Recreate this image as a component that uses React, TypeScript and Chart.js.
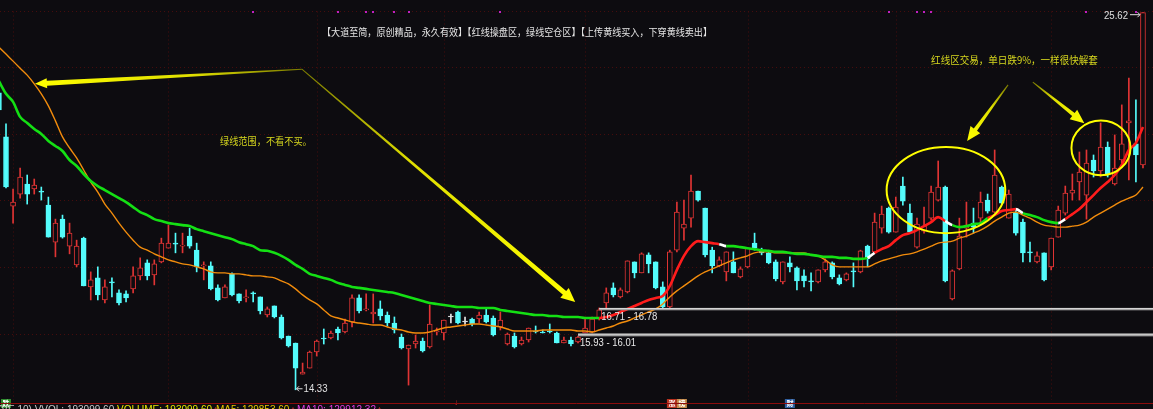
import React, { useEffect, useRef } from "react";
import { Chart, registerables } from "chart.js";

Chart.register(...registerables);

// ---------------- data ----------------
const opens = [23.22,21.90,19.83,20.19,20.49,20.34,20.28,19.86,18.75,19.44,
18.63,18.07,18.87,17.41,17.68,17.02,17.56,17.23,17.20,17.35,
17.74,18.13,17.77,18.16,18.57,18.72,18.63,18.93,18.51,18.04,
18.04,17.38,17.08,17.80,17.20,17.08,17.23,17.11,16.57,16.84,
16.51,15.94,15.73,14.80,14.98,15.46,15.88,15.88,16.15,16.06,
16.36,17.08,16.72,16.60,16.75,16.57,16.33,15.91,15.55,15.70,
15.79,15.61,16.06,16.03,16.51,16.66,16.36,16.45,16.45,16.57,
16.48,16.21,15.70,15.94,15.70,15.82,16.09,16.06,16.09,16.03,
15.73,15.82,15.76,16.03,16.06,16.45,16.93,17.38,17.11,17.26,
18.16,17.83,18.37,18.16,17.41,16.81,18.51,19.17,19.47,20.28,
19.77,18.51,18.04,17.86,18.16,17.71,18.01,18.72,18.51,18.43,
18.16,17.56,18.13,17.98,17.74,17.59,17.56,17.92,18.13,17.68,
17.62,17.89,17.86,18.63,18.46,19.17,19.77,19.05,20.43,19.62,
18.60,19.08,19.47,20.01,20.40,17.05,17.95,19.17,19.32,19.47,
20.01,19.65,20.40,19.47,19.65,19.35,18.46,18.16,18.43,18.01,
18.90,19.62,20.22,20.55,20.16,21.21,20.88,21.60,20.49,21.21,
22.32,21.69,21.06];

const closes = [22.71,20.40,19.95,20.70,20.19,20.46,20.25,18.90,19.32,18.90,
19.02,18.63,17.44,17.62,17.17,17.41,17.53,16.93,17.08,17.74,
17.98,17.74,18.10,18.72,18.72,18.69,18.66,18.63,18.01,18.07,
17.35,17.02,17.41,17.17,16.99,17.11,17.20,16.69,16.75,16.51,
15.88,15.64,14.98,14.86,15.46,15.79,15.85,16.03,16.03,16.33,
17.08,16.69,16.75,16.66,16.54,16.33,16.12,15.58,15.67,15.79,
15.49,16.30,16.09,16.42,16.51,16.33,16.36,16.30,16.57,16.36,
15.97,16.42,16.00,15.61,15.82,16.18,16.06,16.03,16.06,15.73,
15.82,15.70,15.91,16.18,16.45,16.72,17.23,17.17,17.32,18.19,
17.83,18.40,18.10,17.38,16.81,18.46,19.65,19.29,20.28,20.01,
18.37,18.04,18.22,18.46,17.83,17.95,18.57,18.57,18.43,18.13,
17.65,18.16,18.01,17.59,17.59,17.56,17.92,18.16,17.71,17.50,
17.80,17.86,18.49,18.25,19.35,19.59,19.05,19.80,19.98,19.05,
19.29,19.23,20.25,20.40,17.59,17.89,18.93,19.26,19.20,19.95,
19.68,20.76,19.92,20.19,19.02,18.43,18.43,18.34,17.62,18.87,
19.71,20.22,20.31,20.85,21.12,20.88,21.60,20.76,20.97,21.69,
22.38,21.36,25.62];

const highs = [23.31,22.29,20.34,20.97,20.76,20.64,20.40,20.10,19.44,19.56,
19.32,18.81,18.90,17.86,18.01,17.62,17.68,17.32,17.29,18.01,
18.28,18.22,18.22,18.87,19.26,19.02,19.02,19.17,18.72,18.16,
18.16,17.47,17.47,17.83,17.20,17.32,17.26,17.11,16.81,16.84,
16.57,15.94,15.73,15.13,15.49,15.82,16.15,16.09,16.21,16.45,
17.17,17.17,17.20,17.20,16.99,16.66,16.51,16.00,15.67,15.97,
15.88,16.87,16.18,16.42,16.60,16.69,16.51,16.48,16.66,16.78,
16.54,16.66,16.03,16.03,15.91,16.18,16.24,16.12,16.30,16.06,
15.91,15.91,15.94,16.48,16.51,16.78,17.38,17.53,17.38,18.19,
18.16,18.43,18.43,18.16,17.56,18.51,19.95,20.01,20.76,20.28,
19.77,18.60,18.31,18.46,18.46,18.01,18.57,19.02,18.57,18.49,
18.22,18.16,18.31,18.01,17.92,17.83,17.92,18.25,18.16,17.77,
17.83,18.13,18.51,18.66,19.62,19.83,19.80,20.10,20.70,19.89,
19.47,19.80,20.43,21.18,20.43,17.92,19.47,19.95,19.77,20.25,
20.19,21.51,20.43,20.31,19.71,19.44,18.75,18.46,18.43,18.87,
19.83,20.43,20.79,21.45,21.51,21.36,22.32,21.75,21.96,22.86,
23.66,23.01,25.62];

const lows = [22.65,20.37,19.32,20.07,19.89,20.19,20.01,18.90,18.31,18.87,
18.40,18.01,17.44,17.02,17.02,16.93,17.11,16.87,16.96,17.23,
17.62,17.62,17.47,18.13,18.57,18.43,18.43,18.57,17.86,17.62,
17.32,16.99,17.08,17.14,16.93,16.96,16.96,16.60,16.51,16.48,
15.85,15.61,14.33,14.80,14.98,15.34,15.70,15.85,15.82,16.03,
16.21,16.63,16.69,16.33,16.42,16.24,16.03,15.55,14.47,15.58,
15.46,15.58,15.97,15.82,16.33,16.30,16.24,16.24,16.33,16.33,
15.94,16.12,15.67,15.58,15.67,15.76,16.03,16.03,16.03,15.73,
15.73,15.64,15.73,16.03,16.03,16.42,16.78,17.11,17.08,17.23,
17.68,17.83,17.83,17.35,16.78,16.78,18.46,18.81,19.20,19.98,
18.31,17.83,18.01,17.59,17.83,17.68,17.98,18.51,18.37,18.10,
17.59,17.50,17.86,17.32,17.41,17.29,17.53,17.86,17.65,17.47,
17.59,17.41,17.83,18.01,18.43,19.02,19.02,19.05,19.86,19.02,
18.57,19.02,19.41,19.98,17.56,17.02,17.92,18.90,19.02,19.26,
19.62,19.62,19.89,19.47,18.96,18.16,18.16,18.13,17.59,17.92,
18.90,19.56,20.01,20.01,19.44,20.70,20.70,20.70,20.46,21.12,
20.61,20.55,20.97];

// red / green "operating line"
const tradeLine = [23.57,23.19,22.95,22.50,22.32,22.14,21.99,21.78,21.63,21.48,
21.21,21.03,20.79,20.58,20.43,20.31,20.19,20.07,19.95,19.80,
19.65,19.56,19.44,19.38,19.32,19.29,19.26,19.23,19.14,19.08,
19.02,18.96,18.90,18.84,18.75,18.69,18.63,18.51,18.49,18.43,
18.34,18.22,18.07,17.95,17.80,17.74,17.68,17.62,17.53,17.47,
17.41,17.38,17.35,17.32,17.29,17.26,17.23,17.17,17.11,17.05,
16.99,16.93,16.90,16.87,16.84,16.81,16.81,16.81,16.78,16.78,
16.78,16.72,16.69,16.66,16.63,16.60,16.57,16.57,16.54,16.54,
16.51,16.51,16.51,16.48,16.48,16.48,16.51,16.57,16.66,16.75,
16.84,16.93,17.02,17.08,17.14,17.44,17.92,18.34,18.63,18.78,
18.75,18.72,18.69,18.63,18.63,18.60,18.57,18.54,18.51,18.49,
18.46,18.46,18.43,18.40,18.40,18.37,18.34,18.31,18.31,18.28,
18.28,18.25,18.25,18.28,18.43,18.54,18.63,18.81,18.96,19.02,
19.11,19.23,19.35,19.50,19.38,19.26,19.20,19.23,19.29,19.32,
19.47,19.56,19.68,19.71,19.74,19.62,19.56,19.50,19.41,19.35,
19.32,19.44,19.59,19.74,19.95,20.16,20.37,20.55,20.76,21.06,
21.51,21.72,22.20];

// state of the operating line from each index on: G = green, R = red, W = white turn
const tradeLineStates: [number, string][] = [[0,"G"],[85,"R"],[102,"W"],[103,"G"],[123,"W"],[124,"R"],[134,"W"],[135,"G"],[140,"R"],[144,"W"],[145,"G"],[150,"W"],[151,"R"]];

// yellow (orange) line
const yellowLine = [24.59,24.38,24.17,23.96,23.75,23.49,23.19,22.83,22.38,21.90,
21.57,21.27,20.91,20.55,20.25,19.89,19.62,19.32,19.05,18.81,
18.60,18.51,18.40,18.31,18.22,18.16,18.10,18.07,18.01,17.95,
17.86,17.83,17.83,17.80,17.80,17.77,17.74,17.74,17.71,17.68,
17.59,17.50,17.35,17.17,17.02,16.90,16.72,16.54,16.48,16.42,
16.36,16.33,16.30,16.27,16.27,16.21,16.15,16.12,16.06,16.03,
16.03,16.06,16.12,16.18,16.21,16.24,16.27,16.30,16.30,16.27,
16.24,16.21,16.15,16.09,16.09,16.09,16.09,16.12,16.12,16.12,
16.12,16.12,16.09,16.09,16.06,16.12,16.18,16.24,16.33,16.39,
16.48,16.57,16.66,16.75,16.90,17.11,17.29,17.44,17.59,17.74,
17.86,17.95,18.04,18.13,18.22,18.28,18.34,18.43,18.46,18.46,
18.43,18.43,18.43,18.43,18.43,18.37,18.34,18.22,18.07,18.01,
18.01,18.01,18.01,18.01,18.10,18.19,18.25,18.31,18.37,18.40,
18.46,18.54,18.63,18.72,18.75,18.78,18.87,18.93,19.02,19.11,
19.23,19.38,19.50,19.62,19.65,19.56,19.47,19.35,19.26,19.23,
19.20,19.20,19.23,19.26,19.35,19.50,19.62,19.74,19.86,19.98,
20.07,20.16,20.40];

const monthStarts = [2, 24, 45, 63, 83, 106, 127, 149];
const gridPrices = [16, 18, 20, 22, 24];
const gapZones = [
  { lo: 16.71, hi: 16.78, fromIdx: 85, label: "16.71 - 16.78" },
  { lo: 15.93, hi: 16.01, fromIdx: 82, label: "15.93 - 16.01" },
];
const eventMarks = [36, 48, 52, 53, 56, 58, 71, 126, 130, 131, 132, 154, 161];

const titleText = "【大道至简，原创精品，永久有效】【红线操盘区，绿线空仓区】【上传黄线买入，下穿黄线卖出】";
const greenNote = "绿线范围，不看不买。";
const redNote = "红线区交易，单日跌9%，一样很快解套";

const volumeParts = [
  { text: "(VE 10) VVOL: 193099.60", color: "#c8c8c8", x: -2 },
  { text: "VOLUME: 193099.60", color: "#e6e600", x: 117 },
  { text: "MA5: 129853.60", color: "#e6c800", x: 216 },
  { text: "MA10: 129912.32", color: "#e040e0", x: 297 },
];

const badges = [
  { idx: 1, parts: [{ t: "跌", bg: "#2e8b2e" }] },
  { idx: 96, parts: [{ t: "涨", bg: "#b8321f" }, { t: "榜", bg: "#c48a4a" }] },
  { idx: 112, parts: [{ t: "财", bg: "#2f5fa0" }] },
];

// ---------------- styles ----------------
const BG = "#0d0c10";
const UP = "#e03434";
const DOWN = "#54fcfc";
const FLAT = "#e8e8e8";
const CJK = "'Noto Sans CJK SC', sans-serif";
const NUMF = "'Liberation Sans', Arial, sans-serif";

function stateAt(i: number) {
  let s = "G";
  for (const [start, st] of tradeLineStates) if (i >= start) s = st;
  return s;
}
function stateColor(s: string) {
  return s === "R" ? "#ff1c1c" : s === "W" ? "#ffffff" : "#14e014";
}

function drawArrow(ctx: any, x0: number, y0: number, x1: number, y1: number, tailW: number, shaftW: number, headLen: number, headW: number) {
  const dx = x1 - x0, dy = y1 - y0;
  const L = Math.hypot(dx, dy);
  const ux = dx / L, uy = dy / L;
  const nx = -uy, ny = ux;
  const bx = x1 - ux * headLen, by = y1 - uy * headLen;
  const g = ctx.createLinearGradient(x0, y0, x1, y1);
  g.addColorStop(0, "#7a7a00");
  g.addColorStop(0.4, "#dede00");
  g.addColorStop(1, "#ffff00");
  ctx.fillStyle = g;
  ctx.beginPath();
  ctx.moveTo(x0 + nx * tailW / 2, y0 + ny * tailW / 2);
  ctx.lineTo(bx + nx * shaftW / 2, by + ny * shaftW / 2);
  ctx.lineTo(bx + nx * headW / 2, by + ny * headW / 2);
  ctx.lineTo(x1, y1);
  ctx.lineTo(bx - nx * headW / 2, by - ny * headW / 2);
  ctx.lineTo(bx - nx * shaftW / 2, by - ny * shaftW / 2);
  ctx.lineTo(x0 - nx * tailW / 2, y0 - ny * tailW / 2);
  ctx.closePath();
  ctx.fill();
}

export default function App() {
  const ref = useRef<HTMLCanvasElement>(null);

  useEffect(() => {
    document.body.style.margin = "0";
    document.body.style.background = BG;
    const canvas = ref.current!;
    const n = closes.length;
    const idx = Array.from({ length: n }, (_, i) => i);
    const col = idx.map((i) => (closes[i] > opens[i] ? UP : closes[i] < opens[i] ? DOWN : FLAT));
    const fill = idx.map((i) => (closes[i] > opens[i] ? BG : col[i]));
    const maxHigh = Math.max(...highs);
    const minLow = Math.min(...lows);
    const iHigh = highs.indexOf(maxHigh);
    const iLow = lows.indexOf(minLow);

    // annotation geometry in data coordinates (index, price)
    const arrows = [
      { from: [42.9, 23.93], to: [5.1, 23.49], tailW: 1, shaftW: 5, headLen: 12, headW: 10 },
      { from: [42.9, 23.93], to: [81.6, 16.96], tailW: 1, shaftW: 5, headLen: 14, headW: 13 },
      { from: [142.9, 23.46], to: [137.1, 21.78], tailW: 1, shaftW: 4, headLen: 14, headW: 12 },
      { from: [146.4, 23.54], to: [153.7, 22.31], tailW: 1, shaftW: 4, headLen: 14, headW: 12 },
    ];
    const ellipses = [
      { cIdx: 134.1, cPrice: 20.31, rIdx: 8.4, rPrice: 1.29 },
      { cIdx: 156.05, cPrice: 21.57, rIdx: 4.18, rPrice: 0.82 },
    ];
    const notes = [
      { text: titleText, from: 45.75, to: 100.97, price: 25.04, color: "#e6e6e6" },
      { text: greenNote, from: 31.3, to: 44.3, price: 21.78, color: "#d8d81e" },
      { text: redNote, from: 132.0, to: 155.6, price: 24.2, color: "#d8d81e" },
    ];

    const deco = {
      id: "deco",
      beforeDraw(chart: any) {
        const { ctx, width, height } = chart;
        ctx.save();
        ctx.fillStyle = BG;
        ctx.fillRect(0, 0, width, height);
        ctx.restore();
      },
      beforeDatasetsDraw(chart: any) {
        const { ctx, chartArea } = chart;
        const xs = chart.scales.x, ys = chart.scales.y;
        ctx.save();
        ctx.strokeStyle = "#460d0d";
        ctx.lineWidth = 1;
        ctx.setLineDash([1, 3]);
        const topY = Math.round(ys.getPixelForValue(maxHigh)) - 1.5;
        for (const p of gridPrices) {
          const py = Math.round(ys.getPixelForValue(p)) + 0.5;
          ctx.beginPath(); ctx.moveTo(0, py); ctx.lineTo(chartArea.right, py); ctx.stroke();
        }
        ctx.beginPath(); ctx.moveTo(0, topY); ctx.lineTo(chartArea.right, topY); ctx.stroke();
        for (const m of monthStarts) {
          const px = Math.round(xs.getPixelForValue(m)) + 0.5;
          ctx.beginPath(); ctx.moveTo(px, topY); ctx.lineTo(px, chartArea.bottom); ctx.stroke();
        }
        ctx.restore();
      },
      afterDatasetsDraw(chart: any) {
        const { ctx, chartArea } = chart;
        const xs = chart.scales.x, ys = chart.scales.y;
        const X = (v: number) => xs.getPixelForValue(v);
        const Y = (v: number) => ys.getPixelForValue(v);
        ctx.save();

        // gap zones
        for (const g of gapZones) {
          const x0 = X(g.fromIdx);
          const yh = Y(g.hi), yl = Y(g.lo);
          ctx.fillStyle = "#a4a4a4";
          ctx.fillRect(x0, yh, chartArea.right - x0, Math.max(2, yl - yh));
          ctx.fillStyle = "#d8d8d8";
          ctx.fillRect(x0, yh, chartArea.right - x0, 1);
          ctx.font = `11px ${NUMF}`;
          ctx.textBaseline = "top";
          ctx.textAlign = "left";
          ctx.fillStyle = "#e8e8e8";
          ctx.fillText(g.label, x0 + 2, yl + 1.5, 56);
        }

        // low / high labels
        ctx.font = `11px ${NUMF}`;
        ctx.fillStyle = "#e0e0e0";
        ctx.textBaseline = "middle";
        const lx = X(iLow), ly = Y(minLow) - 1;
        ctx.strokeStyle = "#e0e0e0"; ctx.lineWidth = 1;
        ctx.beginPath(); ctx.moveTo(lx + 1, ly); ctx.lineTo(lx + 7, ly); ctx.stroke();
        ctx.beginPath(); ctx.moveTo(lx + 1, ly); ctx.lineTo(lx + 3.5, ly - 2.5); ctx.moveTo(lx + 1, ly); ctx.lineTo(lx + 3.5, ly + 2.5); ctx.stroke();
        ctx.textAlign = "left";
        ctx.fillText(minLow.toFixed(2), lx + 8, ly, 24);
        const hx = X(iHigh), hy = Y(maxHigh) + 2;
        ctx.textAlign = "right";
        ctx.fillText(maxHigh.toFixed(2), hx - 15, hy + 1, 24);
        ctx.beginPath(); ctx.moveTo(hx - 13, hy); ctx.lineTo(hx - 3, hy); ctx.stroke();
        ctx.beginPath(); ctx.moveTo(hx - 3, hy); ctx.lineTo(hx - 5.5, hy - 2.5); ctx.moveTo(hx - 3, hy); ctx.lineTo(hx - 5.5, hy + 2.5); ctx.stroke();

        // event marks on top line
        ctx.fillStyle = "#c020c0";
        for (const e of eventMarks) {
          ctx.fillRect(Math.round(X(e)) - 1, Math.round(Y(maxHigh)) - 2, 2, 2);
        }

        // texts
        ctx.textAlign = "left";
        ctx.textBaseline = "middle";
        for (const t of notes) {
          ctx.font = `10px ${CJK}`;
          ctx.fillStyle = t.color;
          const x0 = X(t.from), x1 = X(t.to);
          ctx.fillText(t.text, x0, Y(t.price), x1 - x0);
        }

        // arrows
        for (const a of arrows) {
          drawArrow(ctx, X(a.from[0]), Y(a.from[1]), X(a.to[0]), Y(a.to[1]), a.tailW, a.shaftW, a.headLen, a.headW);
        }

        // ellipses
        ctx.strokeStyle = "#ffff00";
        ctx.lineWidth = 2;
        for (const e of ellipses) {
          const cx = X(e.cIdx), cy = Y(e.cPrice);
          const rx = Math.abs(X(e.cIdx + e.rIdx) - cx), ry = Math.abs(Y(e.cPrice - e.rPrice) - cy);
          ctx.beginPath();
          ctx.ellipse(cx, cy, rx, ry, 0, 0, Math.PI * 2);
          ctx.stroke();
        }

        // bottom badges
        const bTop = chartArea.bottom - 1;
        ctx.font = `bold 7px ${CJK}`;
        ctx.textAlign = "center";
        ctx.textBaseline = "middle";
        for (const b of badges) {
          const w = 10;
          let bx = X(b.idx) - (b.parts.length * w) / 2;
          for (const p of b.parts) {
            ctx.fillStyle = p.bg;
            ctx.fillRect(bx, bTop, w, 9);
            ctx.fillStyle = "#ffffff";
            ctx.fillText(p.t, bx + w / 2, bTop + 4.5);
            bx += w;
          }
        }
        ctx.fillStyle = "#e03030";
        ctx.font = `8px ${NUMF}`;
        ctx.fillText("↓", X(65) - 2, bTop + 4);

        // separator & volume caption
        const sepY = chartArea.bottom + 3.5;
        ctx.strokeStyle = "#8a0c0c";
        ctx.lineWidth = 1;
        ctx.beginPath(); ctx.moveTo(0, sepY); ctx.lineTo(chart.width, sepY); ctx.stroke();
        ctx.font = `10px ${NUMF}`;
        ctx.textAlign = "left";
        ctx.textBaseline = "top";
        for (const v of volumeParts) {
          ctx.fillStyle = v.color;
          ctx.fillText(v.text, v.x, sepY + 2);
          const w = ctx.measureText(v.text).width;
          ctx.fillStyle = "#ff3030";
          ctx.fillText("↑", v.x + w + 1, sepY + 2);
        }
        ctx.restore();
      },
    };

    const chart = new Chart(canvas, {
      type: "bar",
      data: {
        datasets: [
          {
            type: "line",
            label: "操盘线",
            data: idx.map((i) => ({ x: i, y: tradeLine[i] })),
            borderColor: "#14e014",
            borderWidth: 2.6,
            pointRadius: 0,
            cubicInterpolationMode: "monotone",
            segment: { borderColor: (c: any) => stateColor(stateAt(c.p0DataIndex)) },
            order: 0,
          } as any,
          {
            type: "line",
            label: "黄线",
            data: idx.map((i) => ({ x: i, y: yellowLine[i] })),
            borderColor: "#f28c0c",
            borderWidth: 1.4,
            pointRadius: 0,
            cubicInterpolationMode: "monotone",
            order: 1,
          } as any,
          {
            type: "bar",
            label: "body",
            data: idx.map((i) => ({ x: i, y: [opens[i], closes[i]] })),
            backgroundColor: fill,
            borderColor: col,
            borderWidth: 1,
            borderSkipped: false,
            barThickness: 5,
            minBarLength: 1,
            grouped: false,
            order: 2,
          } as any,
          {
            type: "bar",
            label: "wick",
            data: idx.map((i) => ({ x: i, y: [lows[i], highs[i]] })),
            backgroundColor: col,
            borderWidth: 0,
            barThickness: 1,
            grouped: false,
            order: 3,
          } as any,
        ],
      },
      options: {
        responsive: false,
        animation: false,
        devicePixelRatio: 1,
        events: [],
        layout: { padding: { left: 0, right: 0, top: 0, bottom: 9 } },
        plugins: { legend: { display: false }, tooltip: { enabled: false } },
        scales: {
          x: { type: "linear", min: 0.15, max: 163.42, display: false, offset: false },
          y: { type: "linear", min: 14.024, max: 26, display: false },
        },
      } as any,
      plugins: [deco],
    });
    return () => chart.destroy();
  }, []);

  return (
    <canvas
      ref={ref}
      width={1153}
      height={409}
      style={{ position: "fixed", left: 0, top: 0, width: 1153, height: 409, display: "block" }}
    />
  );
}
